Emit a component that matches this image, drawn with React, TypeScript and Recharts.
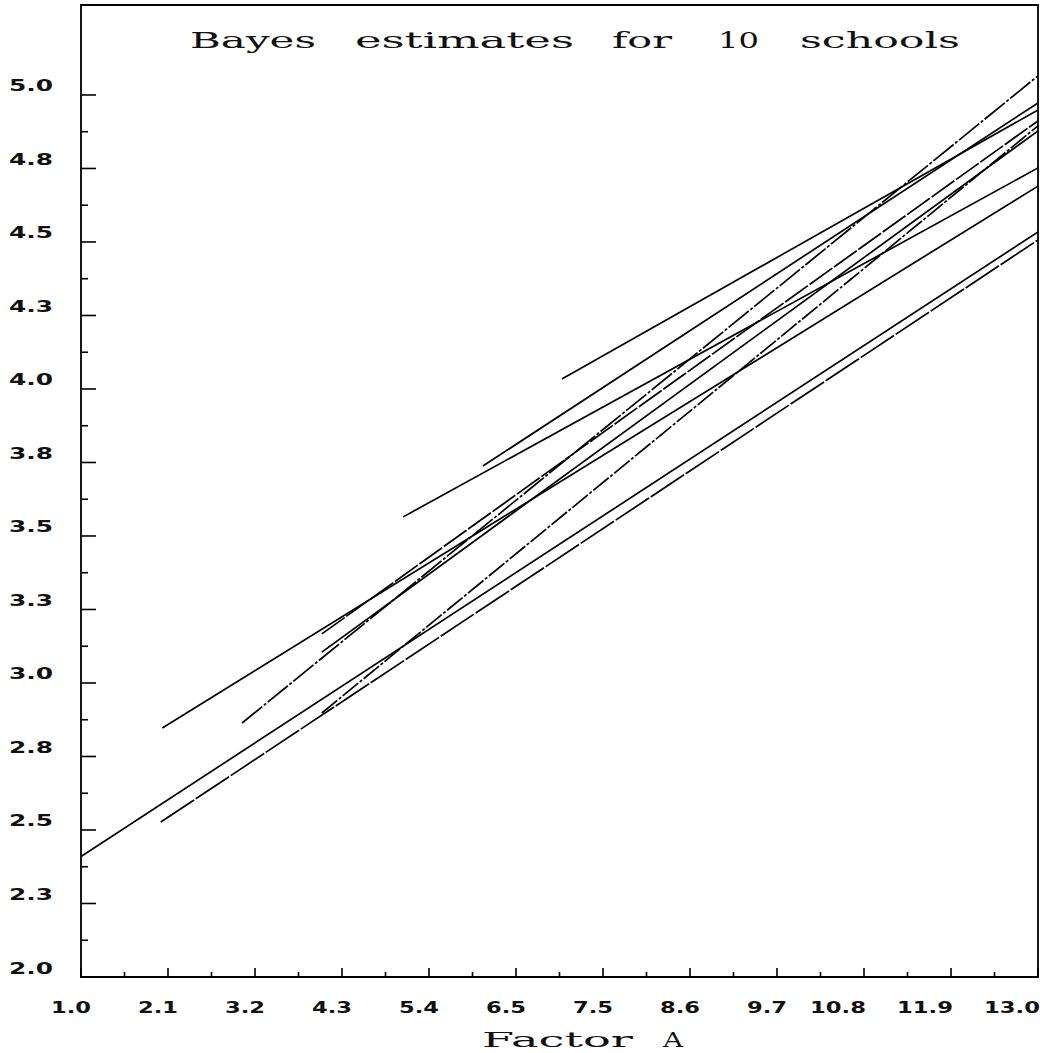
import React from "react";
import {
  LineChart,
  Line,
  XAxis,
  YAxis,
  ReferenceArea,
  Customized,
} from "recharts";

// chart frame (pixels in the page)
const W = 1045;
const H = 1053;
const PLOT_LEFT = 81;
const PLOT_RIGHT = 1038;
const PLOT_TOP = 5;
const PLOT_BOTTOM = 977;

const X_MIN = 1.0;
const X_MAX = 13.0;
const Y_MIN = 2.0;
const Y_MAX = 5.306;

const xTickLabels = ["1.0", "2.1", "3.2", "4.3", "5.4", "6.5", "7.5", "8.6", "9.7", "10.8", "11.9", "13.0"];
const yTickLabels = ["2.0", "2.3", "2.5", "2.8", "3.0", "3.3", "3.5", "3.8", "4.0", "4.3", "4.5", "4.8", "5.0"];

// one fitted line per school: start and end of the Factor A range
const schools = ["1", "2", "3", "4", "5", "6", "7", "8", "9", "10"];
const startX = [1.0, 2.0, 2.02, 3.02, 4.02, 4.02, 4.02, 5.04, 6.04, 7.03];
const startY = [2.41, 2.527, 2.847, 2.864, 3.167, 3.105, 2.898, 3.565, 3.738, 4.034];
const endX = [13, 13, 13, 13, 13, 13, 13, 13, 13, 13];
const endY = [4.534, 4.507, 4.69, 5.065, 4.912, 4.878, 4.895, 4.752, 4.973, 4.949];
const dashes = ["", "40 2", "", "26 2 3 2", "28 2", "", "20 2 3 2", "", "", ""];

const titleWords = ["Bayes", "estimates", "for", "10", "schools"];
const axisTitleWords = ["Factor", "A"];
// word boxes as [left, right] on the page
const titleSpans = [[190, 316], [355, 574], [612, 672], [718, 759], [800, 960]];
const axisTitleSpans = [[482, 633], [663, 683]];

const xMajor = xTickLabels.map((_, i) => X_MIN + (i * (X_MAX - X_MIN)) / (xTickLabels.length - 1));
const xMinor = xMajor.slice(1).map((v, i) => (v + xMajor[i]) / 2);
const yMajor = yTickLabels.map((_, i) => Y_MIN + i * 0.25);
const yMinor = yMajor.slice(1).map((v, i) => (v + yMajor[i]) / 2);

const tickFont = "'DejaVu Sans', sans-serif";
const titleFont = "'DejaVu Serif', serif";

function majorIndex(list: number[], v: number) {
  return list.findIndex((m) => Math.abs(m - v) < 1e-6);
}

function YTick({ y, payload }: any) {
  const i = majorIndex(yMajor, payload.value);
  const len = i >= 0 ? 15 : 7;
  return (
    <g>
      <line x1={PLOT_LEFT} x2={PLOT_LEFT + len} y1={y} y2={y} stroke="#000" strokeWidth={1.6} />
      {i >= 0 && (
        <text
          x={9}
          y={y - 3.5}
          textLength={44}
          lengthAdjust="spacingAndGlyphs"
          fontFamily={tickFont}
          fontWeight="bold"
          fontSize={15}
          fill="#111"
        >
          {yTickLabels[i]}
        </text>
      )}
    </g>
  );
}

function XTick({ x, payload }: any) {
  const i = majorIndex(xMajor, payload.value);
  const len = i >= 0 ? 9 : 5;
  const label = i >= 0 ? xTickLabels[i] : "";
  const wide = label.length > 3;
  return (
    <g>
      <line x1={x} x2={x} y1={PLOT_BOTTOM} y2={PLOT_BOTTOM - len} stroke="#000" strokeWidth={1.6} />
      {i >= 0 && (
        <text
          x={x - (wide ? 54 : 30)}
          y={1012.5}
          textLength={wide ? 56 : 40}
          lengthAdjust="spacingAndGlyphs"
          fontFamily={tickFont}
          fontWeight="bold"
          fontSize={15}
          fill="#111"
        >
          {label}
        </text>
      )}
    </g>
  );
}

function Words({ words, spans, y, size }: { words: string[]; spans: number[][]; y: number; size: number }) {
  return (
    <g>
      {words.map((w, i) => (
        <text
          key={w}
          x={spans[i][0]}
          y={y}
          textLength={spans[i][1] - spans[i][0]}
          lengthAdjust="spacingAndGlyphs"
          fontFamily={titleFont}
          fontSize={size}
          fill="#111"
        >
          {w}
        </text>
      ))}
    </g>
  );
}

function Titles() {
  return (
    <g>
      <Words words={titleWords} spans={titleSpans} y={48} size={22} />
      <Words words={axisTitleWords} spans={axisTitleSpans} y={1047} size={21} />
    </g>
  );
}

export default function App() {
  return (
    <div style={{ position: "absolute", left: 0, top: 0, background: "#fff" }}>
      <LineChart
        width={W}
        height={H}
        margin={{ top: PLOT_TOP, right: W - PLOT_RIGHT, bottom: 0, left: 0 }}
      >
        <XAxis
          type="number"
          dataKey="x"
          domain={[X_MIN, X_MAX]}
          ticks={[...xMajor, ...xMinor].sort((a, b) => a - b)}
          interval={0}
          tick={<XTick />}
          tickLine={false}
          axisLine={false}
          height={H - PLOT_BOTTOM}
          allowDataOverflow
        />
        <YAxis
          type="number"
          dataKey="y"
          domain={[Y_MIN, Y_MAX]}
          ticks={[...yMajor, ...yMinor].sort((a, b) => a - b)}
          interval={0}
          tick={<YTick />}
          tickLine={false}
          axisLine={false}
          width={PLOT_LEFT}
          allowDataOverflow
        />
        <ReferenceArea
          x1={X_MIN}
          x2={X_MAX}
          y1={Y_MIN}
          y2={Y_MAX}
          fill="none"
          stroke="#000"
          strokeWidth={1.8}
        />
        {schools.map((s, i) => (
          <Line
            key={s}
            name={`School ${s}`}
            data={[
              { x: startX[i], y: startY[i] },
              { x: endX[i], y: endY[i] },
            ]}
            dataKey="y"
            type="linear"
            stroke="#000"
            strokeWidth={1.7}
            strokeDasharray={dashes[i] || undefined}
            dot={false}
            activeDot={false}
            isAnimationActive={false}
          />
        ))}
        <Customized component={Titles} />
      </LineChart>
    </div>
  );
}
